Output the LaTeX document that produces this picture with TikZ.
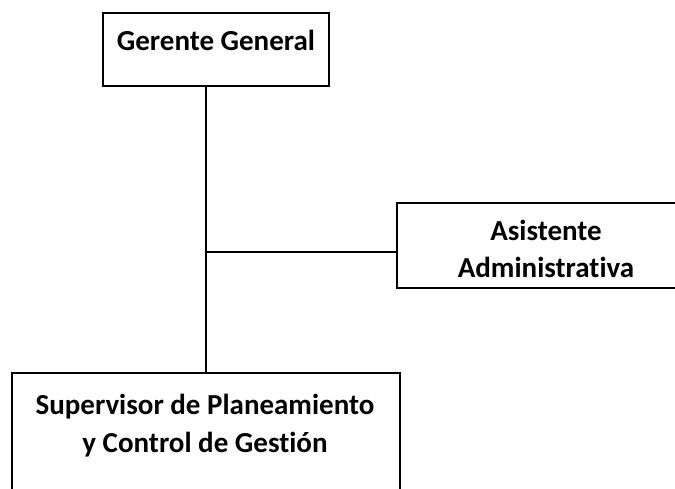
\documentclass[tikz,border=0pt]{standalone}
\usepackage{fontspec}
\setmainfont[RawFeature={-liga;-dlig}]{Carlito}
\begin{document}
\begin{tikzpicture}[x=1pt,y=-1pt,
  box/.style={draw=black,line width=1.2pt,rectangle,inner sep=0pt},
  lbl/.style={anchor=base,font=\fontsize{29}{35}\selectfont\bfseries,inner sep=0pt},
  conn/.style={draw=black,line width=1.2pt}]
\useasboundingbox (0,0) rectangle (675,488);
\clip (0,0) rectangle (675,488);
\fill[white] (0,0) rectangle (675,488);
% boxes
\node[box,minimum width=226pt,minimum height=73pt] (gg) at (216,49.5) {};
\node[box,minimum width=290pt,minimum height=85pt] (as) at (542,245.5) {};
\node[box,minimum width=388pt,minimum height=140pt] (sp) at (206,443) {};
% texts
\node[lbl] (tgg) at (216,50) {Gerente General};
\node[lbl] (tas1) at (546,240) {Asistente};
\node[lbl] (tas2) at (546,277) {Administrativa};
\node[lbl] (tsp1) at (205,414) {Supervisor de Planeamiento};
\node[lbl] (tsp2) at (205,452) {y Control de Gestión};
% connectors
\coordinate (j) at (206,252);
\draw[conn] (gg.south -| j) -- (sp.north -| j);
\draw[conn] (j) -- (as.west |- j);
\end{tikzpicture}
\end{document}
